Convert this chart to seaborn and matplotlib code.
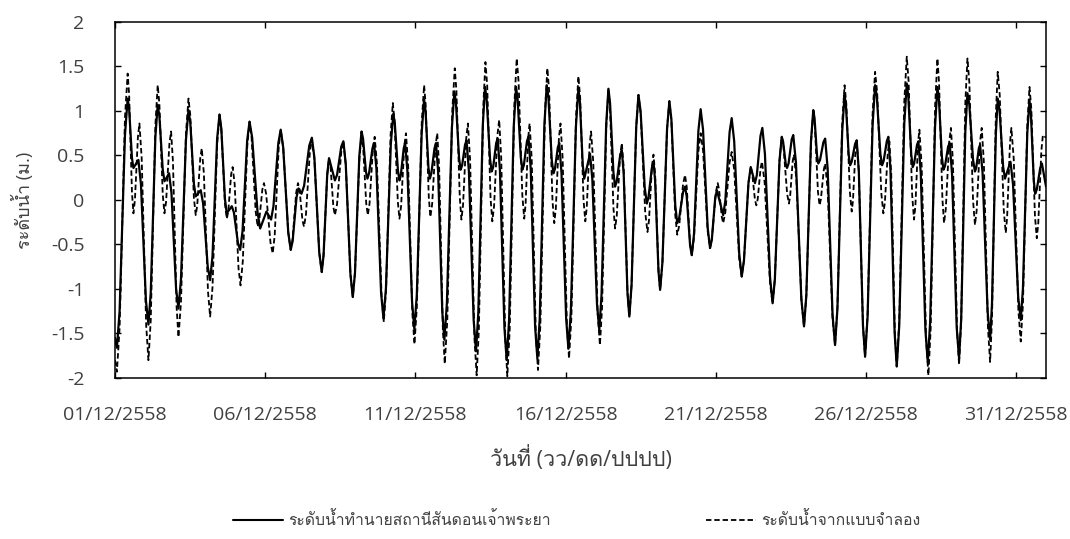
import numpy as np
import pandas as pd
import seaborn as sns
import matplotlib
matplotlib.use("Agg")
import matplotlib.pyplot as plt
from matplotlib import font_manager
from matplotlib.lines import Line2D

# Predicted water level, Sandon Chao Phraya station.
# Hours counted from 01/12/2558 00:00, levels in metres.
# Turning points (highs and lows) of the record
pred_turn_hours = [0, 1.5, 10.1, 14.7, 18.7, 26.7, 34.1, 39.5, 43.2, 50.7, 58.7, 64.5, 68.5, 76,
                   83.5, 89.3, 93.3, 100, 107.5, 116, 121, 124.7, 132.4, 140.4, 146.6, 149, 157.3,
                   165.2, 171, 175.7, 182.5, 190, 197, 201.7, 207, 214.5, 222.4, 227.3, 231.8,
                   239.2, 247, 251.6, 256.5, 263.2, 271.2, 276.2, 280.9, 288.5, 295.7, 301, 305.8,
                   313, 320.5, 325.5, 330.4, 337.5, 345, 350.4, 355, 362.3, 370.3, 375, 379.6, 387,
                   394.3, 399.6, 405, 411, 418.3, 425, 430.3, 435.6, 443, 449.3, 455.5, 460.9, 468,
                   475.5, 481, 486, 492.8, 500.8, 508, 511.4, 517.3, 525.5, 532.8, 537, 542, 550.6,
                   558, 562, 567.5, 575.4, 583, 587.4, 592.7, 599.4, 607.4, 613, 618, 624.7, 632.7,
                   637.5, 642, 649.5, 657.2, 662, 667, 674.5, 681.2, 687.2, 691.3, 699.3, 705.4,
                   711.2, 715.6, 723.8, 730.8, 735.3, 740.7, 744]
pred_turn_level = [-1.55, -1.66, 1.14, 0.36, 0.45, -1.40, 1.07, 0.21, 0.30, -1.22, 1.01, 0.04, 0.11,
                   -0.90, 0.96, -0.15, -0.07, -0.56, 0.88, -0.32, -0.13, -0.22, 0.79, -0.56, 0.13,
                   0.07, 0.70, -0.81, 0.47, 0.22, 0.66, -1.09, 0.77, 0.24, 0.64, -1.33, 0.97, 0.22,
                   0.64, -1.45, 1.13, 0.24, 0.64, -1.57, 1.22, 0.34, 0.67, -1.70, 1.27, 0.32, 0.69,
                   -1.80, 1.27, 0.34, 0.71, -1.78, 1.29, 0.30, 0.64, -1.67, 1.25, 0.24, 0.52, -1.46,
                   1.25, 0.15, 0.56, -1.31, 1.18, -0.04, 0.43, -1.01, 1.11, -0.26, 0.15, -0.62, 1.02,
                   -0.54, 0.11, -0.17, 0.92, -0.86, 0.37, 0.19, 0.81, -1.16, 0.71, 0.36, 0.73, -1.42,
                   1.01, 0.41, 0.69, -1.63, 1.18, 0.39, 0.67, -1.76, 1.29, 0.39, 0.71, -1.87, 1.31,
                   0.37, 0.66, -1.82, 1.27, 0.34, 0.64, -1.78, 1.20, 0.32, 0.62, -1.57, 1.14, 0.24,
                   0.43, -1.35, 1.12, 0.07, 0.41, 0.15]
# Readings on the rising and falling limbs between turning points
pred_limb_hours = [3.65, 7.95, 11.25, 13.55, 20.7, 24.7, 28.55, 32.25, 35.45, 38.15, 45.1, 48.8,
                   52.7, 56.7, 60.15, 63.05, 70.4, 74.1, 77.9, 81.6, 84.95, 87.85, 95.0, 98.3,
                   101.9, 105.6, 109.6, 113.9, 126.6, 130.5, 134.4, 138.4, 141.95, 145.05, 151.1,
                   155.2, 159.3, 163.2, 166.65, 169.55, 177.4, 180.8, 184.4, 188.1, 191.75, 195.25,
                   198.2, 200.5, 203.0, 205.7, 208.9, 212.6, 216.5, 220.4, 223.6, 226.1, 228.4,
                   230.7, 233.65, 237.35, 241.15, 245.05, 248.15, 250.45, 252.8, 255.3, 258.2,
                   261.5, 265.2, 269.2, 272.45, 274.95, 277.4, 279.7, 282.8, 286.6, 290.3, 293.9,
                   297.0, 299.7, 302.2, 304.6, 307.6, 311.2, 314.9, 318.6, 321.75, 324.25, 326.7,
                   329.2, 332.2, 335.7, 339.4, 343.1, 346.35, 349.05, 351.55, 353.85, 356.8, 360.5,
                   364.3, 368.3, 371.5, 373.8, 381.45, 385.15, 388.8, 392.5, 395.6, 398.3, 400.95,
                   403.65, 406.5, 409.5, 412.8, 416.5, 420.0, 423.3, 426.3, 429.0, 431.6, 434.3,
                   437.45, 441.15, 444.6, 447.7, 450.85, 453.95, 456.85, 459.55, 462.7, 466.2,
                   469.9, 473.6, 476.9, 479.6, 487.7, 491.1, 494.8, 498.8, 502.6, 506.2, 512.9,
                   515.8, 519.35, 523.45, 527.3, 531.0, 533.85, 535.95, 538.25, 540.75, 544.15,
                   548.45, 552.45, 556.15, 559.0, 561.0, 563.4, 566.1, 569.5, 573.4, 577.3, 581.1,
                   584.1, 586.3, 588.7, 591.4, 594.4, 597.7, 601.4, 605.4, 608.8, 611.6, 614.25,
                   616.75, 619.7, 623.0, 626.7, 630.7, 633.9, 636.3, 638.6, 640.9, 643.9, 647.6,
                   651.4, 655.3, 658.4, 660.8, 663.25, 665.75, 668.9, 672.6, 676.2, 679.5, 682.7,
                   685.7, 688.2, 690.3, 693.3, 697.3, 700.8, 703.9, 706.85, 709.75, 717.65, 721.75,
                   725.55, 729.05, 731.9, 734.2, 736.65, 739.35]
pred_limb_level = [-1.25, 0.73, 1.03, 0.47, 0.18, -1.13, -1.04, 0.71, 0.94, 0.34, 0.08, -1.00,
                   -0.89, 0.68, 0.87, 0.18, -0.04, -0.75, -0.63, 0.69, 0.80, 0.01, -0.14, -0.49,
                   -0.35, 0.67, 0.70, -0.14, -0.07, 0.64, 0.59, -0.36, -0.46, 0.03, 0.16, 0.61,
                   0.48, -0.59, -0.62, 0.28, 0.28, 0.60, 0.40, -0.83, -0.82, 0.50, 0.69, 0.32,
                   0.30, 0.58, 0.35, -1.04, -0.99, 0.63, 0.86, 0.33, 0.28, 0.58, 0.33, -1.14,
                   -1.07, 0.75, 1.00, 0.37, 0.30, 0.58, 0.32, -1.25, -1.16, 0.81, 1.09, 0.47,
                   0.39, 0.62, 0.32, -1.35, -1.27, 0.84, 1.13, 0.46, 0.37, 0.64, 0.33, -1.44,
                   -1.35, 0.82, 1.13, 0.48, 0.39, 0.66, 0.35, -1.42, -1.33, 0.84, 1.15, 0.44,
                   0.35, 0.59, 0.30, -1.33, -1.24, 0.82, 1.10, 0.39, 0.23, -1.17, -1.06, 0.85,
                   1.09, 0.31, 0.21, 0.50, 0.29, -1.04, -0.95, 0.82, 1.00, 0.14, 0.03, 0.36, 0.22,
                   -0.80, -0.70, 0.80, 0.91, -0.06, -0.20, 0.09, 0.04, -0.51, -0.38, 0.78, 0.79,
                   -0.31, -0.45, 0.02, -0.01, 0.76, 0.66, -0.60, -0.68, 0.19, 0.28, 0.72, 0.52,
                   -0.87, -0.89, 0.44, 0.66, 0.41, 0.41, 0.68, 0.42, -1.11, -1.07, 0.66, 0.92,
                   0.50, 0.45, 0.65, 0.35, -1.29, -1.22, 0.77, 1.06, 0.51, 0.43, 0.63, 0.32,
                   -1.41, -1.31, 0.84, 1.16, 0.52, 0.44, 0.66, 0.33, -1.49, -1.41, 0.85, 1.17,
                   0.51, 0.41, 0.62, 0.30, -1.46, -1.37, 0.82, 1.13, 0.48, 0.38, 0.60, 0.29,
                   -1.43, -1.34, 0.77, 1.07, 0.45, 0.36, 0.58, 0.30, -1.25, -1.17, 0.74, 1.01,
                   0.37, 0.17, -1.09, -0.99, 0.76, 0.97, 0.22, 0.12, 0.36]

# Simulated water level from the model
model_turn_hours = [0, 1.5, 10.1, 14.7, 19.5, 26.7, 34.1, 39.5, 44.8, 50.7, 58.7, 64.5, 69.3, 76,
                    83.5, 89.3, 94, 100.3, 107.5, 114, 119, 126, 132.4, 140.4, 146.2, 151, 157.3,
                    165.2, 171, 175.7, 182.5, 190, 197, 202, 207.5, 214.8, 222, 227.3, 232.5,
                    239.3, 247, 252, 257.5, 263.5, 271.5, 276.8, 282, 289, 296, 301.5, 307, 313.5,
                    321, 327, 331.3, 338, 345.5, 351, 356, 362.8, 370.3, 375.8, 380.4, 387.5,
                    394.3, 399.6, 405, 411, 418.3, 425.5, 430.3, 435.6, 443, 449.3, 455.5, 460.9,
                    468, 475.5, 481.6, 486, 492.8, 500.8, 508, 512.5, 517, 525.5, 532.8, 538.5,
                    542.5, 550.6, 558, 563, 567.5, 575.4, 583, 588.7, 592.7, 599.4, 607.4, 614,
                    618.8, 624.7, 632.7, 638.5, 642.8, 650, 657.2, 662.5, 668, 674.5, 681.2, 687.2,
                    692.6, 699.3, 705.4, 711.8, 716.3, 723.8, 730.8, 736.6, 741.5, 744]
model_turn_level = [-1.80, -1.93, 1.42, -0.15, 0.86, -1.80, 1.29, -0.15, 0.77, -1.54, 1.14, -0.17,
                    0.58, -1.31, 0.96, -0.21, 0.37, -0.96, 0.88, -0.30, 0.19, -0.60, 0.79, -0.56,
                    0.19, -0.30, 0.68, -0.81, 0.47, -0.17, 0.66, -1.09, 0.73, -0.17, 0.71, -1.37,
                    1.09, -0.21, 0.75, -1.62, 1.29, -0.19, 0.75, -1.84, 1.48, -0.22, 0.86, -1.97,
                    1.55, -0.24, 0.90, -1.98, 1.59, -0.21, 0.86, -1.91, 1.48, -0.26, 0.86, -1.78,
                    1.39, -0.24, 0.77, -1.63, 1.25, -0.32, 0.64, -1.31, 1.18, -0.36, 0.51, -1.01,
                    1.11, -0.39, 0.28, -0.62, 0.75, -0.54, 0.19, -0.26, 0.54, -0.86, 0.37, -0.06,
                    0.43, -1.16, 0.71, -0.04, 0.51, -1.42, 0.99, -0.06, 0.41, -1.63, 1.29, -0.13,
                    0.67, -1.76, 1.44, -0.15, 0.66, -1.87, 1.61, -0.22, 0.79, -1.97, 1.59, -0.26,
                    0.81, -1.85, 1.59, -0.28, 0.81, -1.82, 1.44, -0.37, 0.81, -1.59, 1.27, -0.43,
                    0.73, 0.70]
model_limb_hours = [3.65, 7.95, 11.25, 13.55, 15.9, 18.3, 21.3, 24.9, 28.55, 32.25, 35.45, 38.15,
                    40.8, 43.5, 46.3, 49.2, 52.7, 56.7, 60.15, 63.05, 65.7, 68.1, 71.0, 74.3, 77.9,
                    81.6, 84.95, 87.85, 90.5, 92.8, 95.6, 98.7, 102.1, 105.7, 109.1, 112.4, 115.25,
                    117.75, 120.75, 124.25, 127.6, 130.8, 134.4, 138.4, 141.85, 144.75, 147.4,
                    149.8, 152.6, 155.7, 159.3, 163.2, 166.65, 169.55, 172.2, 174.5, 177.4, 180.8,
                    184.4, 188.1, 191.75, 195.25, 198.25, 200.75, 203.4, 206.1, 209.3, 213.0,
                    216.6, 220.2, 223.3, 226.0, 228.6, 231.2, 234.2, 237.6, 241.2, 245.1, 248.25,
                    250.75, 253.4, 256.1, 259.0, 262.0, 265.5, 269.5, 272.8, 275.5, 278.1, 280.7,
                    283.75, 287.25, 290.75, 294.25, 297.4, 300.1, 302.9, 305.6, 308.6, 311.9,
                    315.4, 319.1, 322.5, 325.5, 328.1, 330.2, 333.0, 336.3, 339.9, 343.6, 346.9,
                    349.6, 352.25, 354.75, 357.7, 361.1, 364.7, 368.4, 371.7, 374.4, 376.95,
                    379.25, 382.2, 385.7, 389.2, 392.6, 395.6, 398.3, 400.95, 403.65, 406.5, 409.5,
                    412.8, 416.5, 420.1, 423.7, 426.7, 429.1, 431.6, 434.3, 437.45, 441.15, 444.6,
                    447.7, 450.85, 453.95, 456.85, 459.55, 462.7, 466.2, 469.9, 473.6, 477.0,
                    480.1, 482.7, 484.9, 487.7, 491.1, 494.8, 498.8, 502.6, 506.2, 509.1, 511.4,
                    513.6, 515.9, 519.1, 523.4, 527.3, 531.0, 534.2, 537.1, 539.5, 541.5, 544.5,
                    548.6, 552.45, 556.15, 559.25, 561.75, 564.1, 566.4, 569.5, 573.4, 577.3,
                    581.1, 584.4, 587.3, 589.7, 591.7, 594.4, 597.7, 601.4, 605.4, 609.05, 612.35,
                    615.2, 617.6, 620.3, 623.2, 626.7, 630.7, 634.15, 637.05, 639.6, 641.7, 644.6,
                    648.2, 651.8, 655.4, 658.5, 661.2, 663.9, 666.6, 669.6, 672.9, 676.2, 679.5,
                    682.7, 685.7, 688.55, 691.25, 694.3, 697.6, 700.8, 703.9, 707.0, 710.2, 712.9,
                    715.2, 718.2, 721.9, 725.55, 729.05, 732.25, 735.15, 737.8, 740.3]
model_limb_level = [-1.44, 0.93, 1.19, 0.08, 0.00, 0.71, 0.47, -1.41, -1.35, 0.84, 1.08, 0.06,
                    -0.02, 0.64, 0.43, -1.20, -1.15, 0.75, 0.95, 0.02, -0.06, 0.47, 0.30, -1.03,
                    -0.98, 0.63, 0.79, -0.04, -0.13, 0.29, 0.18, -0.77, -0.69, 0.61, 0.71, -0.13,
                    -0.23, 0.12, 0.07, -0.48, -0.40, 0.59, 0.59, -0.36, -0.45, 0.08, 0.12, -0.23,
                    -0.16, 0.54, 0.46, -0.59, -0.62, 0.28, 0.38, -0.08, -0.05, 0.54, 0.40, -0.83,
                    -0.82, 0.46, 0.60, -0.04, -0.04, 0.58, 0.41, -1.07, -1.01, 0.73, 0.90, -0.02,
                    -0.07, 0.61, 0.40, -1.27, -1.20, 0.87, 1.07, 0.03, -0.05, 0.61, 0.37, -1.46,
                    -1.36, 1.00, 1.23, 0.03, -0.06, 0.70, 0.45, -1.56, -1.46, 1.04, 1.29, 0.02,
                    -0.07, 0.73, 0.48, -1.56, -1.46, 1.07, 1.33, 0.05, -0.05, 0.70, 0.46, -1.51,
                    -1.41, 0.99, 1.23, -0.01, -0.10, 0.70, 0.47, -1.39, -1.32, 0.93, 1.15, 0.00,
                    -0.09, 0.62, 0.42, -1.28, -1.21, 0.83, 1.02, -0.09, -0.18, 0.50, 0.36, -1.03,
                    -0.95, 0.82, 0.96, -0.14, -0.23, 0.38, 0.29, -0.79, -0.70, 0.80, 0.89, -0.17,
                    -0.29, 0.18, 0.15, -0.49, -0.42, 0.55, 0.56, -0.35, -0.43, 0.08, 0.12, -0.19,
                    -0.14, 0.42, 0.34, -0.66, -0.68, 0.19, 0.31, 0.00, 0.01, 0.36, 0.20, -0.93,
                    -0.89, 0.44, 0.60, 0.07, 0.04, 0.43, 0.23, -1.14, -1.07, 0.64, 0.84, 0.09,
                    0.01, 0.34, 0.11, -1.33, -1.20, 0.86, 1.08, 0.08, -0.01, 0.55, 0.32, -1.41,
                    -1.29, 0.97, 1.21, 0.08, -0.03, 0.54, 0.29, -1.50, -1.36, 1.10, 1.34, 0.05,
                    -0.07, 0.64, 0.39, -1.57, -1.45, 1.07, 1.32, 0.01, -0.10, 0.65, 0.42, -1.46,
                    -1.35, 1.09, 1.32, -0.01, -0.12, 0.65, 0.43, -1.44, -1.34, 0.96, 1.18, -0.11,
                    -0.20, 0.64, 0.46, -1.24, -1.17, 0.85, 1.02, -0.18, -0.26, 0.56]

tick_days = [0, 5, 10, 15, 20, 25, 30]
tick_labels = ["01/12/2558", "06/12/2558", "11/12/2558", "16/12/2558",
               "21/12/2558", "26/12/2558", "31/12/2558"]

label_pred = "ระดับน้ำทำนายสถานีสันดอนเจ้าพระยา"
label_model = "ระดับน้ำจากแบบจำลอง"
x_title = "วันที่ (วว/ดด/ปปปป)"
y_title = "ระดับน้ำ (ม.)"

TEXT = "#404040"


def thai_family():
    """Return an installed family that covers Thai script, if any."""
    try:
        from fontTools.ttLib import TTFont
    except Exception:
        return None
    for entry in font_manager.fontManager.ttflist:
        try:
            tt = TTFont(entry.fname, fontNumber=0, lazy=True)
            cmap = tt.getBestCmap()
            if cmap and 0x0E23 in cmap and 0x0E49 in cmap:
                return entry.name
        except Exception:
            continue
    return None


sns.set_style("ticks")
families = ["Open Sans", "DejaVu Sans"]
th = thai_family()
if th:
    families = ["Open Sans", th, "DejaVu Sans"]
plt.rcParams["font.family"] = families


def series(turn_h, turn_v, limb_h, limb_v):
    df = pd.DataFrame({"hour": list(turn_h) + list(limb_h),
                       "level": list(turn_v) + list(limb_v)})
    df["day"] = df["hour"] / 24.0
    return df


pred_df = series(pred_turn_hours, pred_turn_level, pred_limb_hours, pred_limb_level)
model_df = series(model_turn_hours, model_turn_level, model_limb_hours, model_limb_level)

fig = plt.figure(figsize=(10.7, 5.39), dpi=100)
ax = fig.add_axes([0.1075, 0.2987, 0.8701, 0.6605])

sns.lineplot(data=pred_df, x="day", y="level", ax=ax, color="black",
             linewidth=1.6, sort=True, estimator=None)
sns.lineplot(data=model_df, x="day", y="level", ax=ax, color="black",
             linewidth=1.3, sort=True, estimator=None)
ax.lines[1].set_dashes([3.0, 1.6])

ax.set_xlim(0, 31)
ax.set_ylim(-2, 2)
ax.set_xticks(tick_days)
ax.set_xticklabels(tick_labels)
ax.set_yticks(np.arange(-2, 2.01, 0.5))
ax.set_yticklabels(["-2", "-1.5", "-1", "-0.5", "0", "0.5", "1", "1.5", "2"])

for side in ["top", "right", "bottom", "left"]:
    ax.spines[side].set_visible(True)
    ax.spines[side].set_linewidth(1.1)
    ax.spines[side].set_color("black")

ax.tick_params(axis="both", direction="in", length=4, width=1.0, color="black",
               top=True, right=True, labelsize=14, labelcolor=TEXT)
ax.tick_params(axis="x", pad=20)
ax.tick_params(axis="y", pad=22)

ax.set_xlabel(x_title, fontsize=15.5, labelpad=16, color=TEXT)
ax.set_ylabel(y_title, fontsize=13, labelpad=12, color=TEXT)
ax.grid(False)

handles = [Line2D([], [], color="black", linewidth=1.5),
           Line2D([], [], color="black", linewidth=1.3, dashes=[3.0, 1.6])]
leg = fig.legend(handles, [label_pred, label_model], loc="center",
                 bbox_to_anchor=(0.539, 1 - 521 / 539), ncol=2, frameon=False,
                 fontsize=11.3, handlelength=3.2, handletextpad=0.3, columnspacing=9.9)
for t in leg.get_texts():
    t.set_color(TEXT)

fig.savefig("out.png", dpi=100, facecolor="white")
